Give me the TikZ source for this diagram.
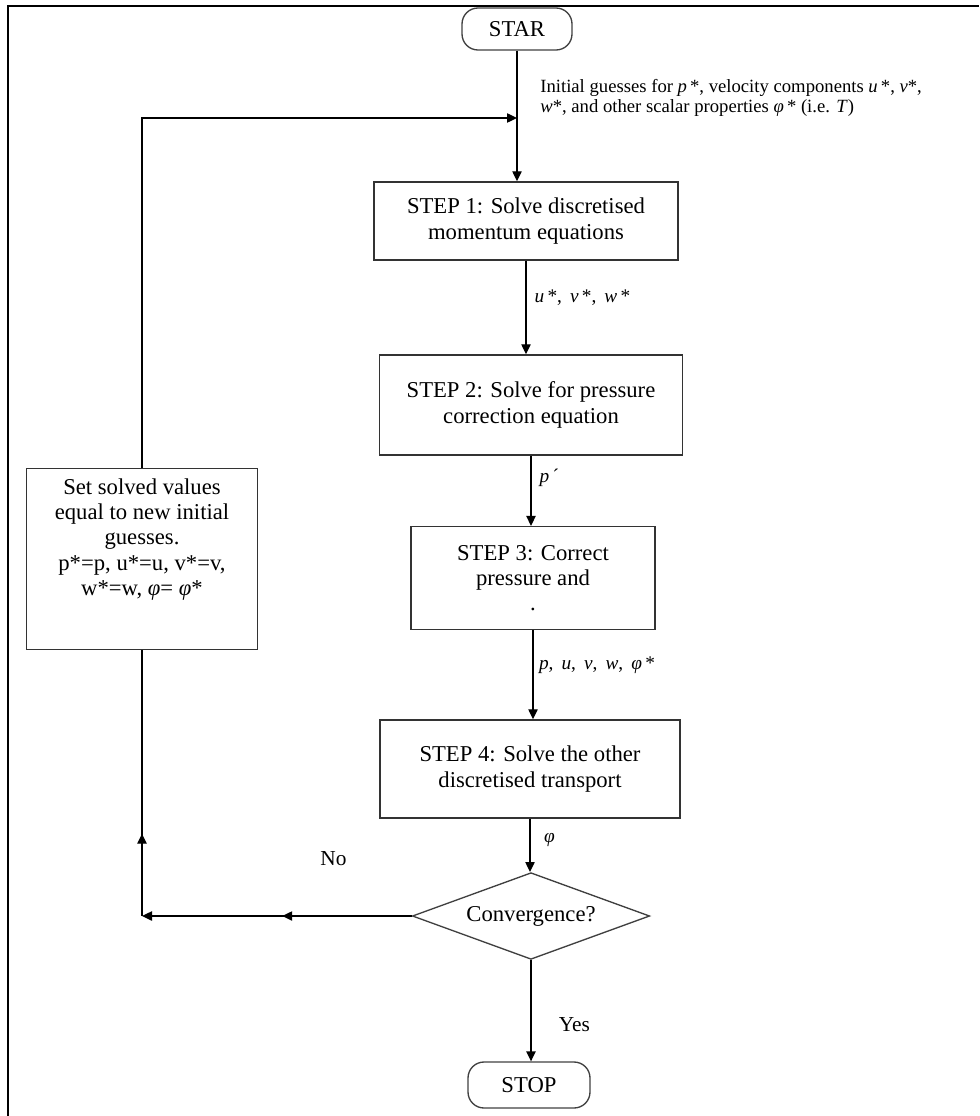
\documentclass[tikz,border=0pt]{standalone}
\usepackage{fontspec}
\setmainfont{Liberation Serif}
\usepackage{tikz}
\usetikzlibrary{arrows.meta, positioning, shapes.geometric, decorations.markings}

\begin{document}
\begin{tikzpicture}[
    x=0.75pt, y=-0.75pt,
    terminal/.style={
        rectangle,
        rounded corners=12pt,
        draw=black!75,
        line width=1pt,
        inner sep=0pt,
        font=\fontsize{17}{19}\selectfont
    },
    stepbox/.style={
        rectangle,
        draw=black!80,
        line width=1.1pt,
        align=center,
        inner sep=0pt,
        font=\fontsize{17}{19}\selectfont
    },
    decision/.style={
        diamond,
        draw=black!75,
        line width=1pt,
        aspect=2.7,
        inner sep=0pt,
        minimum width=178pt,
        minimum height=65pt,
        font=\fontsize{17}{19}\selectfont
    },
    guess/.style={font=\fontsize{14}{15}\selectfont, inner sep=2pt},
    flowlabel/.style={font=\fontsize{14.5}{17}\selectfont, inner sep=2pt},
    answer/.style={font=\fontsize{16}{19}\selectfont},
    arrow/.style={-{Triangle[length=7.5pt,width=7pt]}, line width=1pt},
    line/.style={line width=1pt},
    midarrow/.style={
        postaction={decorate},
        decoration={markings, mark=at position #1 with {\arrow{Triangle[length=7.5pt,width=7pt]}}}
    }
]

\useasboundingbox (0,0) rectangle (979,1116);
\draw[line width=1.6pt] (8,1116) -- (8,6) -- (979,6);

\node[terminal, minimum width=82.5pt, minimum height=31.5pt] (start) at (517,29) {STAR};

\node[stepbox, minimum width=228pt, minimum height=58.5pt] (step1) at (526,221) {
    STEP 1: Solve discretised\\
    momentum equations
};

\node[stepbox, minimum width=227pt, minimum height=75pt] (step2) at (531,405) {
    STEP 2: Solve for pressure\\
    correction equation
};

\node[stepbox, minimum width=183pt, minimum height=77pt] (step3) at (533,578) {
    STEP 3: Correct\\
    pressure and\\
    .
};

\node[stepbox, minimum width=225pt, minimum height=73.5pt] (step4) at (530,769) {
    STEP 4: Solve the other\\
    discretised transport
};

\node[decision] (conv) at (531,916) {Convergence?};

\node[terminal, minimum width=91.5pt, minimum height=34.5pt] (stop) at (529,1085) {STOP};

\node[stepbox, minimum width=173pt, minimum height=136pt] (set) at (142,559) {
    Set solved values\\
    equal to new initial\\
    guesses.\\
    p*=p, u*=u, v*=v,\\
    w*=w, \textit{φ}= \textit{φ}*\\[14pt]
};

\coordinate (join) at (start.south |- 0,118);
\coordinate (cornerbl) at (set.south |- conv.west);

\draw[arrow] (start.south) -- node[guess, pos=0.36, right=15pt, align=left] {
    Initial guesses for \textit{p}\,*, velocity components \textit{u}\,*, \textit{v}*,\\
    \textit{w}*, and other scalar properties \textit{φ}\,* (i.e. \textit{T})
} (start.south |- step1.north);
\draw[arrow] (step1.south) -- node[flowlabel, pos=0.39, right=4pt] {\textit{u}\,*,\, \textit{v}\,*,\, \textit{w}\,*} (step1.south |- step2.north);
\draw[arrow] (step2.south) -- node[flowlabel, pos=0.32, right=4pt] {\textit{p}\,´} (step2.south |- step3.north);
\draw[arrow] (step3.south) -- node[flowlabel, pos=0.39, right=2pt] {\textit{p},\, \textit{u},\, \textit{v},\, \textit{w},\, \textit{φ}\,*} (step3.south |- step4.north);
\draw[arrow] (step4.south) -- node[flowlabel, pos=0.4, right=8pt] {\textit{φ}} (step4.south |- conv.north);
\draw[arrow] (conv.south) -- node[answer, pos=0.64, right=17pt] {Yes} (conv.south |- stop.north);

\draw[arrow, midarrow=0.48] (conv.west) -- node[answer, pos=0.29, yshift=43pt] {No} (cornerbl);
\draw[line, midarrow=0.31] (cornerbl) -- (set.south);
\draw[arrow] (set.north) |- (join);

\end{tikzpicture}
\end{document}
